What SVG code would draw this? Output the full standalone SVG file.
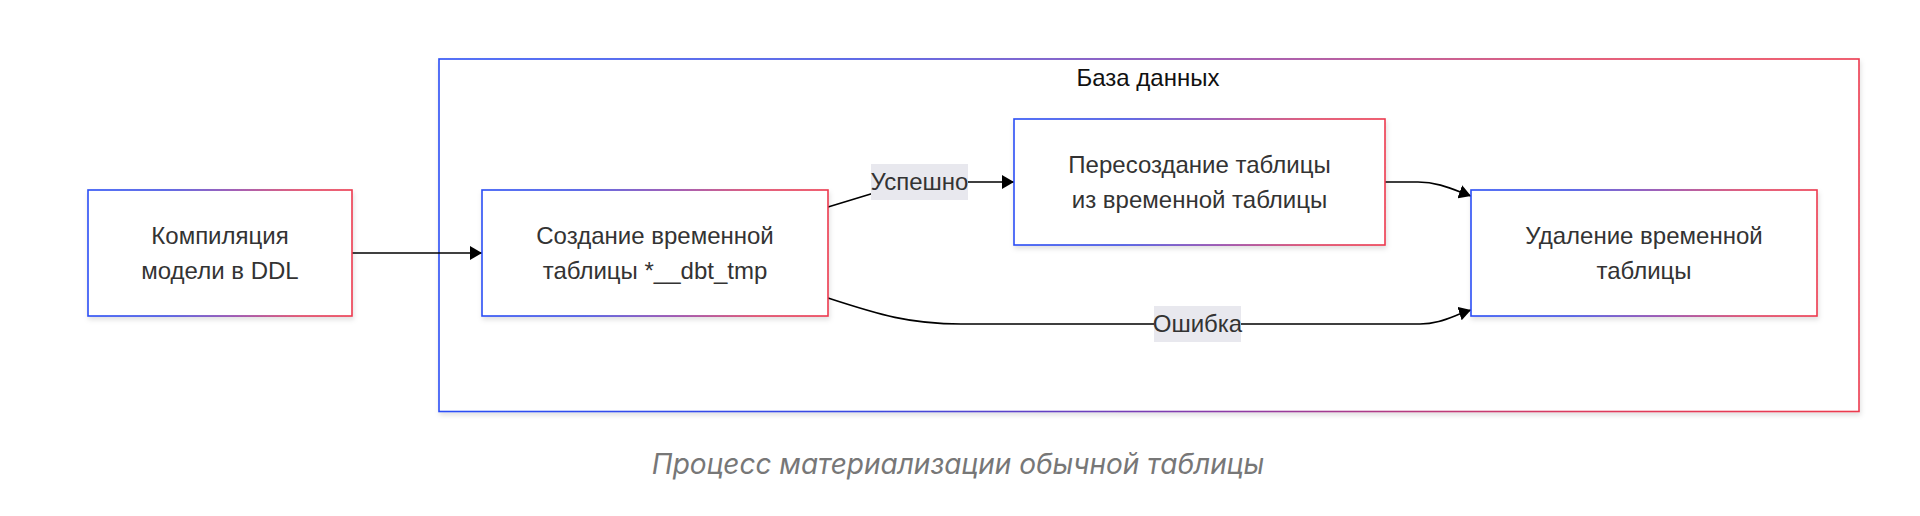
<svg xmlns="http://www.w3.org/2000/svg" width="1920" height="516" viewBox="0 0 1920 516">
<defs>
<linearGradient id="g" x1="0" y1="0" x2="1" y2="0">
<stop offset="0" stop-color="#2a4ef5"/>
<stop offset="0.3" stop-color="#3a48e0"/>
<stop offset="0.55" stop-color="#8a3aa6"/>
<stop offset="0.8" stop-color="#dc3a5c"/>
<stop offset="1" stop-color="#ec3a4e"/>
</linearGradient>
<filter id="sh" x="-10%" y="-10%" width="120%" height="130%">
<feDropShadow dx="1" dy="3" stdDeviation="2.5" flood-color="#000" flood-opacity="0.12"/>
</filter>
<marker id="arr" viewBox="0 0 10 10" refX="10" refY="5" markerUnits="userSpaceOnUse" markerWidth="12" markerHeight="14" orient="auto" preserveAspectRatio="none">
<path d="M0,0 L10,5 L0,10 z" fill="#000"/>
</marker>
<style>
.box{fill:#fff;stroke:url(#g);stroke-width:1.6;filter:url(#sh)}
.t{font-family:"Liberation Sans",Arial,sans-serif;font-size:24px;fill:#333;text-anchor:middle}
.title{font-family:"Liberation Sans",Arial,sans-serif;font-size:24px;fill:#111;text-anchor:middle}
.e{fill:none;stroke:#000;stroke-width:1.6;marker-end:url(#arr)}
.lb{fill:#e8e8ee}
.cap{font-family:Inter,Roboto,"Liberation Sans",sans-serif;font-style:italic;font-size:28px;fill:#777;text-anchor:middle}
</style>
</defs>
<rect width="1920" height="516" fill="#fff"/>
<g id="cluster-db">
<rect class="box" x="439" y="59" width="1420" height="352.5"/>
<text class="title" x="1148" y="86">База данных</text>
</g>
<g id="connectors">
<path class="e" d="M352,253 L482,253"/>
<path class="e" d="M828,207 L874,193 C892,187 902,182 919,182 L1014,182"/>
<path class="e" d="M1385,182 L1418,182 C1438,182 1452,189 1471,196"/>
<path class="e" d="M828,298 C880,315 910,324 961,324 L1420,324 C1440,324 1452,316 1471,310"/>
<g id="label-success">
<rect class="lb" x="871" y="164" width="97" height="36"/>
<text class="t" x="919.5" y="190">Успешно</text>
</g>
<g id="label-error">
<rect class="lb" x="1154" y="306" width="87" height="36"/>
<text class="t" x="1197.5" y="332">Ошибка</text>
</g>
</g>
<g id="node-compile">
<rect class="box" x="88" y="190" width="264" height="126"/>
<text class="t" x="220" y="243.5">Компиляция</text>
<text class="t" x="220" y="279">модели в DDL</text>
</g>
<g id="node-create">
<rect class="box" x="482" y="190" width="346" height="126"/>
<text class="t" x="655" y="243.5">Создание временной</text>
<text class="t" x="655" y="279">таблицы *__dbt_tmp</text>
</g>
<g id="node-recreate">
<rect class="box" x="1014" y="119" width="371" height="126"/>
<text class="t" x="1199.5" y="172.5">Пересоздание таблицы</text>
<text class="t" x="1199.5" y="208">из временной таблицы</text>
</g>
<g id="node-delete">
<rect class="box" x="1471" y="190" width="346" height="126"/>
<text class="t" x="1644" y="243.5">Удаление временной</text>
<text class="t" x="1644" y="279">таблицы</text>
</g>
<text class="cap" x="958" y="474">Процесс материализации обычной таблицы</text>
</svg>
